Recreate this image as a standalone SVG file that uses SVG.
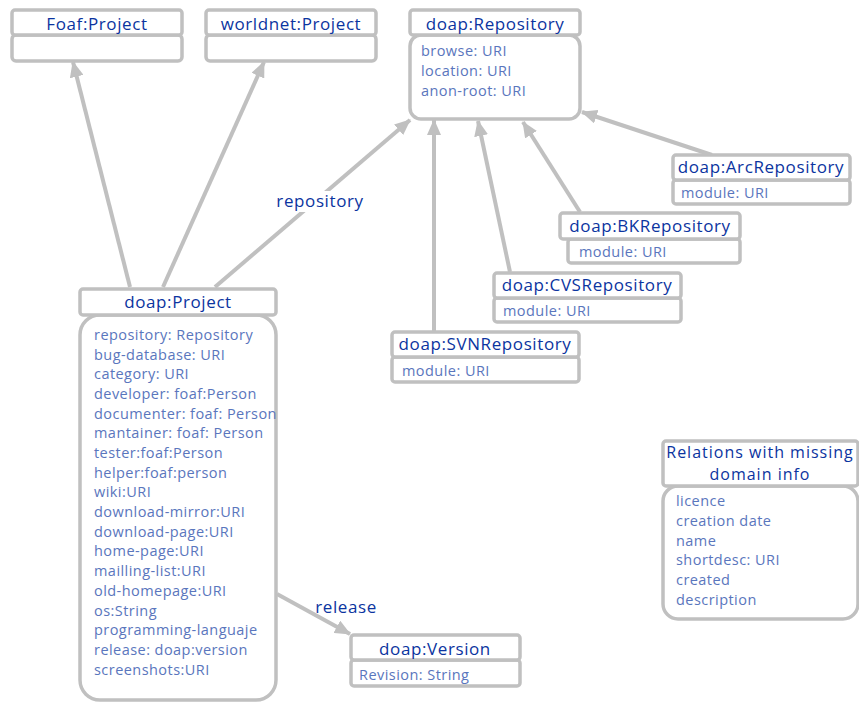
<svg xmlns="http://www.w3.org/2000/svg" width="859" height="704" viewBox="0 0 859 704">
<defs>
<marker id="ah" markerUnits="userSpaceOnUse" markerWidth="18" markerHeight="14" refX="15" refY="7" orient="auto">
<path d="M0,0 L16,7 L0,14 Z" fill="#c0c0c0"/>
</marker>
<style>
.box{fill:#fff;stroke:#c0c0c0;stroke-width:3.5}
.hd{font-family:"Open Sans","DejaVu Sans",sans-serif;font-size:17px;letter-spacing:0.6px;fill:#0b34a0;text-anchor:middle}
.hd2{font-family:"Open Sans","DejaVu Sans",sans-serif;font-size:16px;letter-spacing:1px;fill:#0b34a0;text-anchor:middle}
.at{font-family:"Open Sans","DejaVu Sans",sans-serif;font-size:14.5px;letter-spacing:0.45px;fill:#5a76bd}
.lbl{font-family:"Open Sans","DejaVu Sans",sans-serif;font-size:17px;letter-spacing:0.6px;fill:#0b34a0;text-anchor:middle}
.cn{stroke:#c0c0c0;stroke-width:4;fill:none;marker-end:url(#ah)}
</style>
</defs>
<rect width="859" height="704" fill="#fff"/>
<g id="connectors">
<line class="cn" x1="130" y1="287" x2="73" y2="62"/>
<line class="cn" x1="163" y1="287" x2="264" y2="62"/>
<line class="cn" x1="215" y1="287" x2="410" y2="120"/>
<line class="cn" x1="434" y1="331" x2="434" y2="120"/>
<line class="cn" x1="510" y1="272" x2="478" y2="121"/>
<line class="cn" x1="580" y1="212" x2="523" y2="122"/>
<line class="cn" x1="712" y1="155" x2="582" y2="112"/>
<line class="cn" x1="277" y1="594" x2="350" y2="634"/>
<rect x="272" y="191" width="96" height="21" fill="#fff"/>
<text class="lbl" x="320" y="207">repository</text>
<text class="lbl" x="346" y="613">release</text>
</g>
<g id="foaf-project">
<rect class="box" x="12" y="35" width="170" height="26" rx="4"/>
<rect class="box" x="12" y="10" width="170" height="25" rx="3"/>
<text class="hd" x="97" y="30">Foaf:Project</text>
</g>
<g id="worldnet-project">
<rect class="box" x="206" y="35" width="170" height="26" rx="4"/>
<rect class="box" x="206" y="10" width="170" height="25" rx="3"/>
<text class="hd" x="291" y="30">worldnet:Project</text>
</g>
<g id="doap-repository">
<rect class="box" x="410" y="35" width="170" height="84" rx="11"/>
<rect class="box" x="410" y="10" width="170" height="25" rx="3"/>
<text class="hd" x="495" y="30">doap:Repository</text>
<text class="at" x="421" y="56">browse: URI</text>
<text class="at" x="421" y="76">location: URI</text>
<text class="at" x="421" y="96">anon-root: URI</text>
</g>
<g id="doap-arcrepository">
<rect class="box" x="673" y="180" width="177" height="24" rx="3"/>
<rect class="box" x="673" y="155" width="177" height="25" rx="3"/>
<text class="hd" x="761" y="173">doap:ArcRepository</text>
<text class="at" x="681" y="198">module: URI</text>
</g>
<g id="doap-bkrepository">
<rect class="box" x="568" y="239" width="172" height="24" rx="3"/>
<rect class="box" x="560" y="213" width="180" height="26" rx="3"/>
<text class="hd" x="650" y="232">doap:BKRepository</text>
<text class="at" x="579" y="257">module: URI</text>
</g>
<g id="doap-cvsrepository">
<rect class="box" x="494" y="298" width="187" height="24" rx="3"/>
<rect class="box" x="494" y="273" width="187" height="25" rx="3"/>
<text class="hd" x="587" y="291">doap:CVSRepository</text>
<text class="at" x="503" y="316">module: URI</text>
</g>
<g id="doap-svnrepository">
<rect class="box" x="392" y="357" width="187" height="25" rx="3"/>
<rect class="box" x="392" y="332" width="187" height="25" rx="3"/>
<text class="hd" x="485" y="350">doap:SVNRepository</text>
<text class="at" x="402" y="376">module: URI</text>
</g>
<g id="doap-project">
<rect class="box" x="80" y="315" width="196" height="385" rx="20"/>
<rect class="box" x="80" y="289" width="196" height="26" rx="3"/>
<text class="hd" x="178" y="308">doap:Project</text>
<text class="at" x="94" y="340">repository: Repository</text>
<text class="at" x="94" y="360">bug-database: URI</text>
<text class="at" x="94" y="379">category: URI</text>
<text class="at" x="94" y="399">developer: foaf:Person</text>
<text class="at" x="94" y="419">documenter: foaf: Person</text>
<text class="at" x="94" y="438">mantainer: foaf: Person</text>
<text class="at" x="94" y="458">tester:foaf:Person</text>
<text class="at" x="94" y="478">helper:foaf:person</text>
<text class="at" x="94" y="497">wiki:URI</text>
<text class="at" x="94" y="517">download-mirror:URI</text>
<text class="at" x="94" y="537">download-page:URI</text>
<text class="at" x="94" y="556">home-page:URI</text>
<text class="at" x="94" y="576">mailling-list:URI</text>
<text class="at" x="94" y="596">old-homepage:URI</text>
<text class="at" x="94" y="616">os:String</text>
<text class="at" x="94" y="635">programming-languaje</text>
<text class="at" x="94" y="655">release: doap:version</text>
<text class="at" x="94" y="675">screenshots:URI</text>
</g>
<g id="doap-version">
<rect class="box" x="351" y="660" width="169" height="26" rx="3"/>
<rect class="box" x="351" y="635" width="169" height="25" rx="3"/>
<text class="hd" x="435" y="655">doap:Version</text>
<text class="at" x="359" y="680">Revision: String</text>
</g>
<g id="missing-domain">
<rect class="box" x="663" y="486" width="195" height="133" rx="15"/>
<rect class="box" x="663" y="441" width="195" height="45" rx="3"/>
<text class="hd2" x="760" y="458">Relations with missing</text>
<text class="hd2" x="760" y="480">domain info</text>
<text class="at" x="676" y="506">licence</text>
<text class="at" x="676" y="526">creation date</text>
<text class="at" x="676" y="546">name</text>
<text class="at" x="676" y="565">shortdesc: URI</text>
<text class="at" x="676" y="585">created</text>
<text class="at" x="676" y="605">description</text>
</g>
</svg>
